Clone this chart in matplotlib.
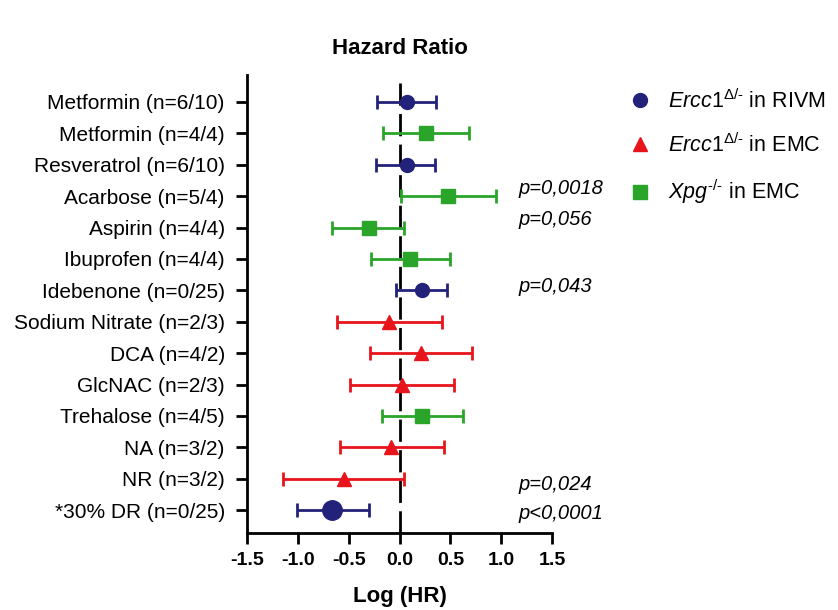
import numpy as np
import matplotlib
matplotlib.use("Agg")
from matplotlib import pyplot as plt
from matplotlib.lines import Line2D

plt.rcParams['font.family'] = ['Liberation Sans', 'DejaVu Sans']
plt.rcParams['mathtext.fontset'] = 'custom'
plt.rcParams['mathtext.rm'] = 'Liberation Sans'
plt.rcParams['mathtext.it'] = 'Liberation Sans:italic'

# Data (log hazard ratio, lower and upper CI), top to bottom
labels = ['Metformin (n=6/10)', 'Metformin (n=4/4)', 'Resveratrol (n=6/10)',
          'Acarbose (n=5/4)', 'Aspirin (n=4/4)', 'Ibuprofen (n=4/4)',
          'Idebenone (n=0/25)', 'Sodium Nitrate (n=2/3)', 'DCA (n=4/2)',
          'GlcNAC (n=2/3)', 'Trehalose (n=4/5)', 'NA (n=3/2)', 'NR (n=3/2)',
          '*30% DR (n=0/25)']
log_hr = [0.07, 0.26, 0.07, 0.48, -0.30, 0.10, 0.22, -0.10, 0.21, 0.02, 0.22, -0.08, -0.55, -0.66]
ci_low = [-0.22, -0.16, -0.23, 0.01, -0.66, -0.28, -0.03, -0.61, -0.29, -0.49, -0.17, -0.59, -1.15, -1.01]
ci_high = [0.36, 0.68, 0.35, 0.95, 0.04, 0.50, 0.47, 0.42, 0.71, 0.54, 0.62, 0.44, 0.04, -0.30]
group = ['RIVM', 'Xpg', 'RIVM', 'Xpg', 'Xpg', 'Xpg', 'RIVM', 'EMC', 'EMC', 'EMC', 'Xpg', 'EMC', 'EMC', 'RIVM']

p_texts = ['p=0,0018', 'p=0,056', 'p=0,043', 'p=0,024', 'p<0,0001']
p_rows = [2.75, 3.75, 5.88, 12.2, 13.1]

styles = {
    'RIVM': dict(color='#22227a', marker='o', ms=10),
    'EMC': dict(color='#e8141c', marker='^', ms=10),
    'Xpg': dict(color='#2aa52a', marker='s', ms=9.5),
}
legend_labels = {
    'RIVM': r'$\mathit{Ercc1}^{\mathit{\Delta/\text{-}}}$ in RIVM',
    'EMC': r'$\mathit{Ercc1}^{\mathit{\Delta/\text{-}}}$ in EMC',
    'Xpg': r'$\mathit{Xpg}^{\text{-/-}}$ in EMC',
}

fig = plt.figure(figsize=(8.38, 6.10), dpi=100)
ax = fig.add_axes([247 / 838, 1 - 533 / 610, 305 / 838, 458 / 610])

ax.axvline(0, color='black', lw=2, ls=(0, (8, 3)), zorder=1)

y = np.arange(len(labels))
for i in range(len(labels)):
    st = styles[group[i]]
    ms = st['ms'] * 1.4 if labels[i].startswith('*') else st['ms']
    ax.errorbar(log_hr[i], y[i],
                xerr=[[log_hr[i] - ci_low[i]], [ci_high[i] - log_hr[i]]],
                fmt=st['marker'], color=st['color'], ms=ms, elinewidth=2,
                capsize=5, capthick=2, zorder=3)

for t, r in zip(p_texts, p_rows):
    ax.text(1.17, r, t, style='italic', fontsize=14.5, va='center', ha='left', clip_on=False)

ax.set_xlim(-1.5, 1.5)
ax.set_ylim(13.73, -0.86)
ax.set_xticks(np.arange(-1.5, 1.51, 0.5))
ax.set_xticklabels(['%.1f' % v for v in np.arange(-1.5, 1.51, 0.5)], fontweight='bold', fontsize=14)
ax.set_yticks(y)
ax.set_yticklabels(labels, fontsize=15)
ax.tick_params(axis='x', length=8, width=2, pad=6)
ax.tick_params(axis='y', length=8, width=2, pad=8)
for s in ['top', 'right']:
    ax.spines[s].set_visible(False)
for s in ['left', 'bottom']:
    ax.spines[s].set_linewidth(2)

ax.set_xlabel('Log (HR)', fontsize=16, fontweight='bold', labelpad=12)
fig.text(400 / 838, 1 - 48 / 610, 'Hazard Ratio', fontsize=16, fontweight='bold', ha='center', va='center')

handles = [Line2D([], [], ls='none', marker=styles[k]['marker'], color=styles[k]['color'],
                  ms=styles[k]['ms']) for k in ['RIVM', 'EMC', 'Xpg']]
fig.legend(handles, [legend_labels[k] for k in ['RIVM', 'EMC', 'Xpg']],
           loc='upper left', bbox_to_anchor=(608 / 838, 1 - 70 / 610), frameon=False,
           fontsize=15.5, labelspacing=0.95, handletextpad=0.7, handlelength=1.2)

fig.savefig('out.png', dpi=100)
